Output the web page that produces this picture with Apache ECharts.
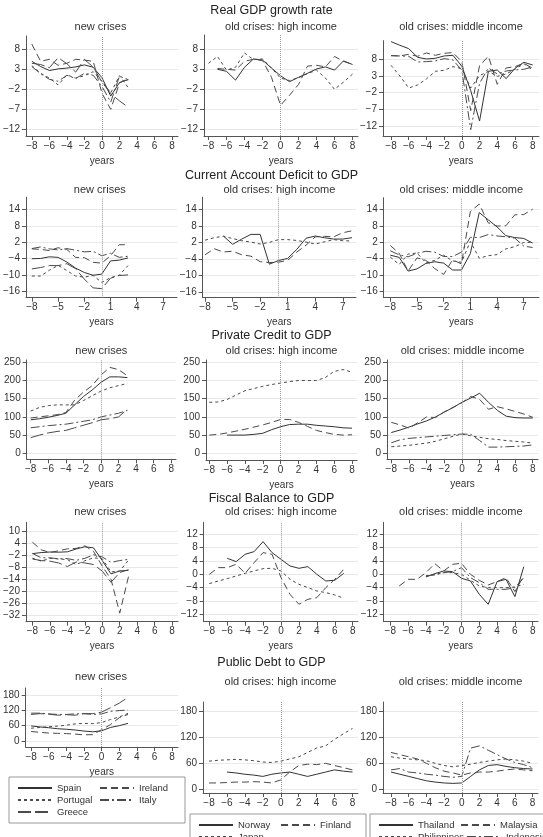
<!DOCTYPE html>
<html><head><meta charset="utf-8">
<script src="https://cdn.jsdelivr.net/npm/echarts@6/dist/echarts.min.js"></script>
<style>html,body{margin:0;padding:0;background:#fff}#c{width:543px;height:837px}</style>
</head><body><div id="c"></div>
<script>
// ---------- categories / ticks ----------
const years = [-8,-7,-6,-5,-4,-3,-2,-1,0,1,2,3,4,5,6,7,8];
const yearsNew = [-8,-7,-6,-5,-4,-3,-2,-1,0,1,2,3];
const xTicksA = [-8,-6,-4,-2,0,2,4,6,8];
const xTicksB = [-8,-5,-2,1,4,7];
const yTicksGDP = [-12,-7,-2,3,8];
const yTicksCA = [-16,-10,-4,2,8,14];
const yTicksCR = [0,50,100,150,200,250];
const yTicksFBnew = [-32,-26,-20,-14,-8,-2,4,10];
const yTicksFBold = [-12,-8,-4,0,4,8,12];
const yTicksPD = [0,60,120,180];
const rowTitles = ['Real GDP growth rate','Current Account Deficit to GDP','Private Credit to GDP','Fiscal Balance to GDP','Public Debt to GDP'];
const subTitles = ['new crises','old crises: high income','old crises: middle income'];
const namesNew = ['Spain','Ireland','Portugal','Italy','Greece'];
const namesHigh = ['Norway','Finland','Japan'];
const namesMid = ['Thailand','Malaysia','Philippines','Indonesia'];

// ---------- Real GDP growth ----------
const gdpSpain    = [5.0,3.7,2.7,3.1,3.3,3.6,4.1,3.5,0.9,-3.7,-0.3,0.4];
const gdpIreland  = [9.3,5.0,5.5,4.0,4.5,5.5,5.3,5.0,-3.0,-7.0,-0.4,0.7];
const gdpPortugal = [3.9,2.0,0.8,-0.9,1.6,0.8,1.4,2.4,0.0,-2.9,1.4,-1.6];
const gdpItaly    = [3.7,1.9,0.5,0.0,1.5,0.7,2.0,1.5,-1.3,-5.2,1.3,0.4];
const gdpGreece   = [4.5,4.2,3.4,5.9,4.4,2.3,5.5,3.5,-0.2,-3.1,-4.9,-6.5];
const gdpNorway   = [null,3.0,2.5,0.3,3.5,5.6,5.3,3.3,1.4,-0.1,1.0,2.0,3.1,3.6,2.8,5.1,4.2];
const gdpFinland  = [null,3.2,3.0,2.8,5.0,5.5,5.2,1.0,-6.0,-3.5,-0.8,3.8,4.0,3.6,6.2,5.0,4.2];
const gdpJapan    = [4.5,6.2,2.8,3.5,7.1,5.4,5.6,3.3,0.8,0.2,0.9,1.9,2.8,0.8,-2.0,-0.2,1.8];
const gdpThailand = [13.3,12.2,11.2,8.6,8.1,8.3,9.0,9.2,5.9,-1.4,-10.5,4.4,4.8,2.2,5.3,7.1,6.3];
const gdpMalaysia = [9.1,9.0,9.5,8.9,9.9,9.2,9.8,10.0,7.3,-7.4,6.1,8.9,0.5,5.4,5.8,6.8,5.3];
const gdpPhilippines = [6.2,3.0,-0.6,0.3,2.1,4.4,4.7,5.8,5.2,-0.6,3.1,4.4,2.9,3.6,5.0,6.7,4.8];
const gdpIndonesia = [9.1,9.0,8.9,7.2,7.3,7.5,8.2,7.8,4.7,-13.1,0.8,5.4,3.6,4.5,4.8,5.0,5.7];

// ---------- Current account ----------
const caSpain    = [-4.0,-3.9,-3.3,-3.5,-5.2,-7.4,-9.0,-10.0,-9.6,-4.8,-4.5,-3.7];
const caIreland  = [-0.4,-0.6,-1.0,0.0,-0.6,-3.5,-3.6,-5.3,-5.6,-2.9,1.1,1.1];
const caPortugal = [-10.3,-10.3,-8.2,-6.4,-8.3,-10.3,-10.7,-10.1,-12.6,-10.9,-10.0,-6.5];
const caItaly    = [-0.3,0.3,-0.4,-0.8,-0.3,-0.9,-1.5,-1.3,-2.9,-2.0,-3.5,-3.1];
const caGreece   = [-7.7,-7.2,-6.5,-6.5,-5.8,-7.6,-11.4,-14.6,-14.9,-11.1,-10.1,-9.9];
const caNorway   = [null,null,4.3,1.3,3.2,4.9,4.9,-5.9,-4.6,-3.8,-0.5,3.5,4.3,3.7,3.2,3.2,3.7];
const caFinland  = [-2.5,-0.3,-1.5,-1.2,-2.5,-3.0,-5.0,-5.3,-5.2,-4.5,-1.5,1.0,4.0,4.2,4.0,5.5,6.2];
const caJapan    = [2.8,3.7,4.2,3.4,2.6,2.1,1.4,2.0,3.0,3.0,2.7,2.1,1.4,2.2,3.0,2.6,2.5];
const caThailand = [-2.7,-3.5,-8.5,-7.7,-5.7,-5.1,-5.6,-8.1,-8.1,-2.1,12.8,10.2,7.6,4.4,3.7,3.4,1.7];
const caMalaysia = [0.8,-2.0,-8.5,-3.7,-4.6,-7.6,-9.7,-4.4,-5.9,13.2,15.9,9.1,7.9,8.0,12.0,12.1,14.0];
const caPhilippines = [-3.4,-6.1,-2.3,-1.9,-5.5,-4.6,-2.7,-4.8,-5.3,2.3,-3.8,-2.9,-2.5,-0.4,0.4,1.9,2.0];
const caIndonesia = [-1.1,-2.6,-3.3,-2.0,-1.3,-1.6,-3.2,-3.2,-1.6,3.8,3.7,4.8,4.3,4.0,3.5,0.6,0.1];

// ---------- Private credit ----------
const crSpain    = [92,95,99,104,110,133,156,174,195,210,210,208];
const crIreland  = [97,100,103,106,112,146,168,186,215,236,230,213];
const crPortugal = [116,126,131,133,133,133,145,158,171,180,186,192];
const crItaly    = [70,73,76,78,80,84,88,92,100,105,110,118];
const crGreece   = [43,50,56,60,63,70,77,84,92,95,100,121];
const crNorway   = [null,null,50,50,50,52,55,65,73,79,80,80,77,75,73,70,69];
const crFinland  = [50,52,56,61,66,72,78,85,93,93,85,74,63,57,52,50,51];
const crJapan    = [140,141,148,160,172,178,184,189,193,197,200,200,200,208,225,230,223];
const crThailand = [57,64,72,81,89,100,113,126,140,152,165,140,118,102,98,97,97];
const crMalaysia = [85,78,69,84,100,98,114,126,139,156,148,121,128,122,115,108,99];
const crPhilippines = [18,20,22,25,28,33,40,47,53,48,44,40,38,35,33,31,28];
const crIndonesia = [29,37,41,43,45,47,49,51,53,52,35,17,17,18,19,20,23];

// ---------- Fiscal balance ----------
const fbSpain    = [-1.0,-0.5,-0.2,-0.3,-0.1,1.3,2.4,1.9,-4.5,-11.2,-9.7,-9.4];
const fbIreland  = [4.7,0.9,-0.4,0.4,1.4,1.6,2.9,0.1,-7.3,-13.9,-30.9,-12.6];
const fbPortugal = [-3.3,-4.8,-3.4,-3.7,-4.0,-6.5,-4.6,-3.1,-3.6,-10.2,-9.8,-4.3];
const fbItaly    = [-0.9,-3.1,-3.1,-3.6,-3.5,-4.4,-3.4,-1.6,-2.7,-5.4,-4.5,-3.9];
const fbGreece   = [-3.7,-4.5,-4.8,-5.7,-7.5,-5.2,-5.7,-6.5,-9.8,-15.4,-10.5,-9.1];
const fbNorway   = [null,null,4.8,3.8,6.0,6.8,9.8,6.5,4.5,2.5,1.8,2.3,0.0,-2.0,-1.8,0.3,null];
const fbFinland  = [0.0,2.0,2.0,3.0,0.3,3.5,6.5,6.0,-1.0,-6.0,-9.0,-7.5,-7.0,-4.0,-1.5,1.5,null];
const fbJapan    = [-2.8,-2.0,-1.3,-0.5,0.3,1.0,1.7,1.8,1.0,-1.5,-3.0,-4.0,-5.0,-5.5,-6.2,-7.2,null];
const fbThailand = [null,null,null,null,-0.8,0.2,1.0,0.8,-1.2,-2.0,-6.0,-9.0,-2.2,-1.5,-6.7,2.3,null];
const fbMalaysia = [null,-3.5,-1.5,-1.5,0.5,3.2,1.0,3.0,3.3,0.0,-1.8,-3.2,-2.2,-1.0,-5.2,-0.5,null];
const fbPhilippines = [null,null,null,null,-0.5,0.0,0.5,0.5,0.0,-1.8,-3.5,-4.0,-4.0,-4.0,-3.8,-3.0,null];
const fbIndonesia = [null,null,null,null,-0.5,-0.2,0.5,0.8,2.0,-1.0,-2.5,-4.5,-4.5,-4.5,-4.0,-1.0,null];

// ---------- Public debt ----------
const pdSpain    = [59,55,52,48,46,43,39,36,40,53,60,69];
const pdIreland  = [37,34,31,30,29,27,24,25,44,64,91,104];
const pdPortugal = [50,53,56,58,62,67,69,68,72,84,94,108];
const pdItaly    = [109,109,106,104,104,106,107,104,106,116,119,121];
const pdGreece   = [104,107,105,101,103,101,107,107,113,130,148,171];
const pdNorway   = [null,null,40,38,35,33,30,35,38,40,35,30,35,40,45,42,40];
const pdFinland  = [15,15,16,17,17,18,17,15,22,40,55,58,57,60,55,50,45];
const pdJapan    = [65,67,68,69,68,66,63,62,65,70,75,85,95,100,115,128,140];
const pdThailand = [40,35,30,25,20,17,15,14,15,30,45,55,57,53,50,48,47];
const pdMalaysia = [85,80,75,70,60,50,42,38,33,38,40,40,42,45,47,45,43];
const pdPhilippines = [75,72,70,68,66,60,55,52,55,58,62,65,68,70,68,65,60];
const pdIndonesia = [45,48,40,38,35,33,30,28,30,95,100,90,80,70,62,57,50];

// ---------- assembly ----------
const rows = [
  {yt:[yTicksGDP,yTicksGDP,yTicksGDP], xt:xTicksA,
   sets:[[gdpSpain,gdpIreland,gdpPortugal,gdpItaly,gdpGreece],[gdpNorway,gdpFinland,gdpJapan],[gdpThailand,gdpMalaysia,gdpPhilippines,gdpIndonesia]]},
  {yt:[yTicksCA,yTicksCA,yTicksCA], xt:xTicksB,
   sets:[[caSpain,caIreland,caPortugal,caItaly,caGreece],[caNorway,caFinland,caJapan],[caThailand,caMalaysia,caPhilippines,caIndonesia]]},
  {yt:[yTicksCR,yTicksCR,yTicksCR], xt:xTicksA,
   sets:[[crSpain,crIreland,crPortugal,crItaly,crGreece],[crNorway,crFinland,crJapan],[crThailand,crMalaysia,crPhilippines,crIndonesia]]},
  {yt:[yTicksFBnew,yTicksFBold,yTicksFBold], xt:xTicksA,
   sets:[[fbSpain,fbIreland,fbPortugal,fbItaly,fbGreece],[fbNorway,fbFinland,fbJapan],[fbThailand,fbMalaysia,fbPhilippines,fbIndonesia]]},
  {yt:[yTicksPD,yTicksPD,yTicksPD], xt:xTicksA,
   sets:[[pdSpain,pdIreland,pdPortugal,pdItaly,pdGreece],[pdNorway,pdFinland,pdJapan],[pdThailand,pdMalaysia,pdPhilippines,pdIndonesia]]}
];
const groupNames = [namesNew, namesHigh, namesMid];
const groupX = [yearsNew, years, years];

// layout (pixels): axis box L,R,T,B; pixel of x=-8 and x=8; two y reference (value, pixel)
const GEO = [
 [{L:23,R:178,T:36,B:136,x0:29,x1:172,y1:[8,49.3],y2:[-12,129.3]},
  {L:204,R:358,T:35,B:136,x0:208.5,x1:352.5,y1:[8,49.3],y2:[-12,129.3]},
  {L:383,R:539,T:40.7,B:136,x0:391,x1:532.7,y1:[8,59.3],y2:[-12,126]}],
 [{L:22.7,R:177,T:197.3,B:297.7,x0:28.7,x1:171.6,y1:[14,209.3],y2:[-16,291.7]},
  {L:202.7,R:356,T:197.3,B:297.7,x0:205,x1:352,y1:[14,209.3],y2:[-16,292]},
  {L:383.7,R:539,T:197.7,B:297.7,x0:390.3,x1:532.6,y1:[14,209.3],y2:[-16,291.7]}],
 [{L:26.7,R:176,T:360,B:459.3,x0:30.7,x1:171.3,y1:[250,362.3],y2:[0,453.3]},
  {L:206,R:357,T:360,B:460,x0:209.3,x1:352,y1:[250,362.3],y2:[0,453.3]},
  {L:387,R:538,T:360,B:459.3,x0:391.3,x1:532.7,y1:[250,362.3],y2:[0,453.3]}],
 [{L:22.7,R:178,T:522.3,B:621.7,x0:29.3,x1:172,y1:[10,531.7],y2:[-32,615.3]},
  {L:203.7,R:358,T:522.3,B:621.7,x0:209.3,x1:352.7,y1:[12,534.3],y2:[-12,614.3]},
  {L:383.7,R:538,T:522.3,B:621.7,x0:390.3,x1:532.7,y1:[12,534.3],y2:[-12,614.3]}],
 [{L:24,R:178,T:688,B:747,x0:29.5,x1:172,y1:[180,695],y2:[0,741]},
  {L:203,R:358,T:702,B:793,x0:209,x1:352.5,y1:[180,711],y2:[0,789.5]},
  {L:383,R:538,T:702,B:793,x0:391,x1:532.5,y1:[180,711],y2:[0,789.5]}]
];
const titleY = [11, 175.5, 335.5, 498.5, 663];
const subY = [[27,27,27],[189.5,189.5,189.5],[350.7,350.7,350.7],[512.3,512.3,512.3],[677,682,682]];

const FONT = '"Liberation Sans", Arial, sans-serif';
const TXT = '#333';
const AX = '#555';
const dashOf = {
  Spain:'solid', Norway:'solid', Thailand:'solid',
  Ireland:[7,4], Finland:[7,4], Malaysia:[7,4],
  Portugal:[3,3], Japan:[3,3], Philippines:[3,3],
  Italy:[9,3,2,3], Indonesia:[9,3,2,3],
  Greece:[13,4]
};
const colorOf = n => (dashOf[n] === 'solid' ? '#333' : '#4a4a4a');
const fmt = v => (v < 0 ? '\u2212' + Math.abs(v) : String(v));

const grids = [], xAxes = [], yAxes = [], series = [], graphics = [];
rows.forEach((row, r) => {
  graphics.push({type:'text', x:271.5, y:titleY[r], silent:true,
    style:{text:rowTitles[r], font:'12.5px ' + FONT, fill:'#222', align:'center', verticalAlign:'middle', textAlign:'center', textVerticalAlign:'middle'}});
  for (let c = 0; c < 3; c++) {
    const g = GEO[r][c];
    const gi = grids.length;
    grids.push({left:g.L, top:g.T, width:g.R - g.L, height:g.B - g.T, containLabel:false});
    graphics.push({type:'text', x:(g.L + g.R) / 2, y:subY[r][c], silent:true,
      style:{text:subTitles[c], font:'11px ' + FONT, fill:TXT, align:'center', verticalAlign:'middle', textAlign:'center', textVerticalAlign:'middle'}});
    const ppu = (g.x1 - g.x0) / 16;
    const xmin = -8 - (g.x0 - g.L) / ppu, xmax = 8 + (g.R - g.x1) / ppu;
    const k = (g.y2[1] - g.y1[1]) / (g.y2[0] - g.y1[0]);
    const yAt = p => g.y1[0] + (p - g.y1[1]) / k;
    const ymax = yAt(g.T), ymin = yAt(g.B);
    xAxes.push({gridIndex:gi, type:'value', min:xmin, max:xmax,
      axisLine:{show:true, onZero:false, lineStyle:{color:AX, width:1}},
      axisTick:{show:true, length:4, customValues:row.xt, lineStyle:{color:AX}},
      axisLabel:{show:true, customValues:row.xt, margin:5, fontSize:10, fontFamily:FONT, color:TXT, formatter:fmt},
      splitLine:{show:false},
      name:'years', nameLocation:'middle', nameGap:20, nameTextStyle:{fontSize:10, fontFamily:FONT, color:TXT}});
    yAxes.push({gridIndex:gi, type:'value', min:ymin, max:ymax,
      axisLine:{show:true, onZero:false, lineStyle:{color:AX, width:1}},
      axisTick:{show:true, length:4, customValues:row.yt[c], lineStyle:{color:AX}},
      axisLabel:{show:true, customValues:row.yt[c], margin:6, fontSize:10, fontFamily:FONT, color:TXT, formatter:fmt},
      splitLine:{show:true, lineStyle:{color:'#e8e8e8', width:1}}});
    const names = groupNames[c];
    row.sets[c].forEach((vals, si) => {
      const nm = names[si];
      const s = {type:'line', name:nm, xAxisIndex:gi, yAxisIndex:gi, symbol:'none', silent:true,
        connectNulls:false, animation:false,
        lineStyle:{color:colorOf(nm), width:1, type:dashOf[nm]},
        itemStyle:{color:colorOf(nm)},
        data: vals.map((v, i) => [groupX[c][i], v])};
      if (si === 0) {
        s.markLine = {silent:true, symbol:['none','none'], label:{show:false}, animation:false,
          lineStyle:{type:'dotted', color:'#999', width:1}, data:[{xAxis:0}]};
      }
      series.push(s);
    });
  }
});

const legendCommon = {orient:'horizontal', selectedMode:false, itemWidth:34, itemHeight:10, itemGap:2,
  width:190, padding:[6,6,6,8], borderColor:'#999', borderWidth:1, backgroundColor:'#fff',
  itemStyle:{opacity:0}, textStyle:{fontSize:9.5, fontFamily:FONT, color:TXT, width:40, lineHeight:10}};
const legends = [
  Object.assign({}, legendCommon, {data:namesNew, left:9, top:777}),
  Object.assign({}, legendCommon, {data:namesHigh, left:190, top:814}),
  Object.assign({}, legendCommon, {data:namesMid, left:370, top:814})
];

const chart = echarts.init(document.getElementById('c'), null, {renderer:'canvas', width:543, height:837});
chart.setOption({
  animation:false, backgroundColor:'#fff',
  textStyle:{fontFamily:FONT},
  grid:grids, xAxis:xAxes, yAxis:yAxes, series:series,
  legend:legends, graphic:graphics
});
</script></body></html>
